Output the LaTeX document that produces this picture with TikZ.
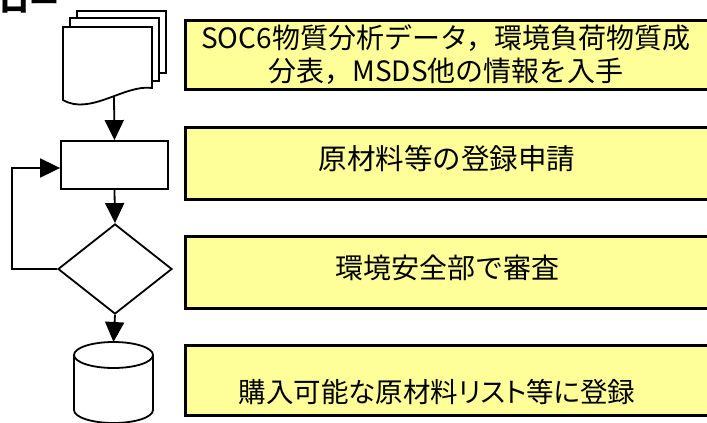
\documentclass[tikz,border=0pt]{standalone}
\usepackage{fontspec}
\setmainfont{Noto Sans CJK JP}
\newfontfamily\jpprop{Noto Sans CJK JP}[RawFeature=+palt]
\usetikzlibrary{arrows.meta,shapes.geometric}
\definecolor{boxyellow}{HTML}{FFFF99}
\begin{document}
\begin{tikzpicture}[x=1pt,y=-1pt,
  flow/.style={draw=black,line width=1.8pt,fill=white},
  arr/.style={line width=1.8pt,-{Triangle[width=19pt,length=20pt]}},
  note/.style={draw=black,line width=3pt,fill=boxyellow,inner sep=0pt},
  notetext/.style={font=\fontsize{28}{33}\selectfont,align=center,inner sep=0pt}]
\useasboundingbox (0,0) rectangle (707,423);
\clip (0,0) rectangle (707,423);

% title fragment
\node[font=\fontsize{30}{30}\selectfont\bfseries,anchor=base west,inner sep=0pt] (title) at (-1,12.5) {ロー};

% yellow boxes
\node[note,minimum width=527pt,minimum height=69pt] (b1) at (448.5,54.5) {};
\node[note,minimum width=527pt,minimum height=72pt] (b2) at (448.5,163.5) {};
\node[note,minimum width=527pt,minimum height=72pt] (b3) at (448.5,272.5) {};
\node[note,minimum width=527pt,minimum height=70.5pt] (b4) at (448.5,380.25) {};
\node[notetext] (t1) at (446,55) {SOC6物質分析データ，環境負荷物質成\\分表，MSDS他の情報を入手};
\node[notetext,font=\fontsize{28.5}{33}\selectfont] (t2) at (447,159) {原材料等の登録申請};
\node[notetext] (t3) at (447,268) {環境安全部で審査};
\node[notetext,font=\fontsize{27.5}{33}\selectfont\jpprop] (t4) at (437,392) {購入可能な原材料リスト等に登録};

% multi-document
\draw[flow] (77,11) rectangle (166,73);
\draw[flow] (70,18) rectangle (159,81);
\draw[flow] (63,27) -- (152,27) -- (152,88) .. controls (125,84) and (90,116) .. (63,100) -- cycle;
\coordinate (docb) at (114,97);

% process and decision
\node[flow,minimum width=107pt,minimum height=48pt,inner sep=0pt] (reg) at (114.5,165) {};
\node[flow,diamond,minimum width=114pt,minimum height=90pt,inner sep=0pt] (dia) at (115,269) {};

% database
\draw[flow] (74,355) -- (74,410) arc[start angle=180,end angle=360,x radius=39.5pt,y radius=13pt] -- (153,355);
\draw[flow] (113.5,355) ellipse [x radius=39.5pt,y radius=13pt];
\coordinate (cyltop) at (113.5,342);
\coordinate (loop) at (12,168);

% connectors
\draw[arr] (docb) -- (reg.north);
\draw[arr] (reg.south) -- (dia.north);
\draw[arr] (dia.west) -| (loop) -- (reg.west |- loop);
\draw[arr] (dia.south) -- (cyltop);
\end{tikzpicture}
\end{document}
